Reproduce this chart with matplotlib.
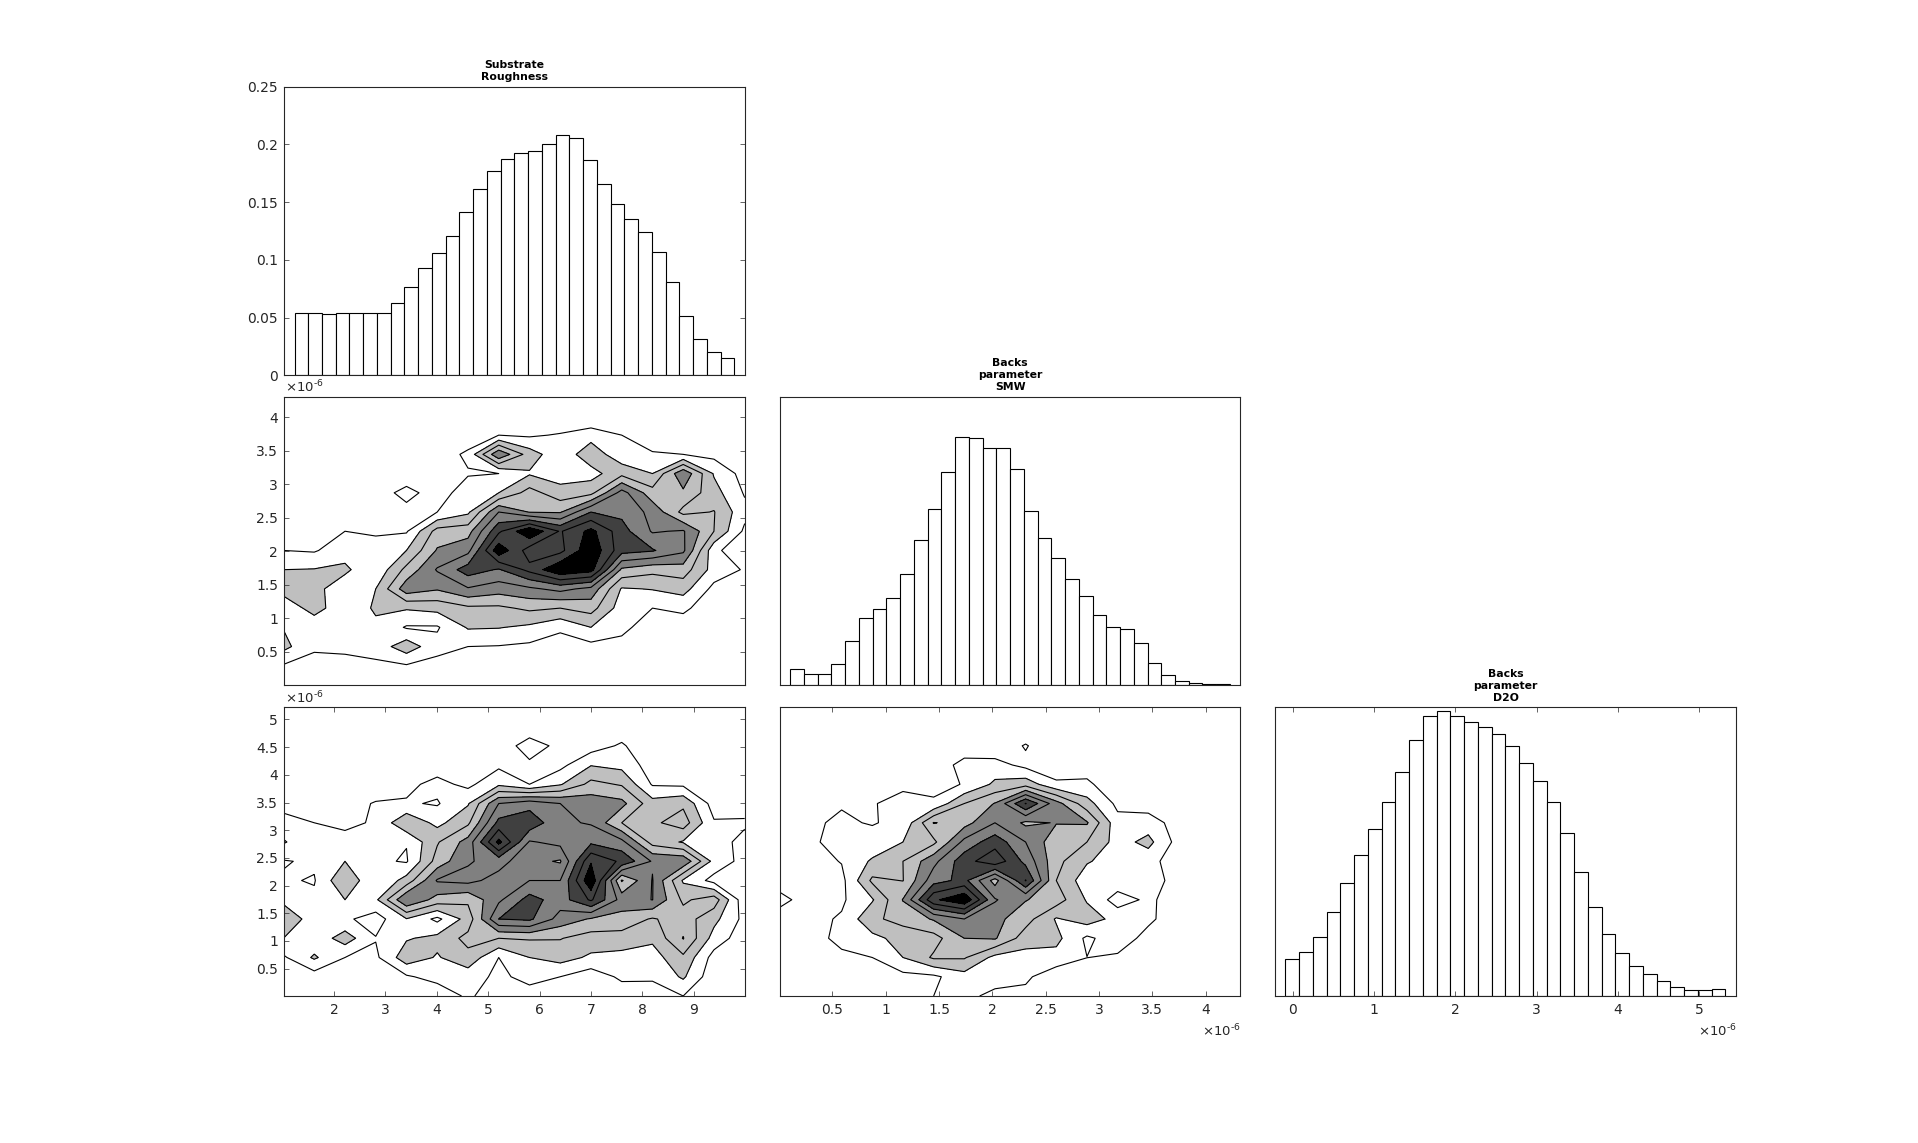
import numpy as np
import matplotlib
matplotlib.use('Agg')
import matplotlib.pyplot as plt

W, H = 1918, 1143

# histogram heights
hist_rough = [.0536, .0536, .0527, .0536, .0544, .0544, .0544, .0622, .0769, .0933, .1063, .121, .1417, .1616, .1771, .1875,
              .1927, .1944, .2005, .2082, .2056, .1866, .1659, .1486, .1357, .1244, .1071, .0804, .0518, .0311, .0199, .0147]
hist_smw = [.0138, .0095, .0095, .0182, .0381, .058, .0657, .0753, .096, .1254, .1522, .1843, .2154, .2145, .2059, .2059,
            .1869, .1505, .1272, .1099, .0917, .077, .0606, .0502, .0484, .0363, .019, .0087, .0035, .0017, .0009, .0009]
hist_d2o = [.032, .0381, .051, .0727, .0977, .122, .1445, .1678, .1938, .2215, .2422, .2465, .2422, .237, .2327, .2266,
            .2163, .2016, .186, .1678, .141, .1073, .077, .0536, .0372, .026, .019, .013, .0078, .0052, .0052, .0061]

# bin ranges of the histograms and axis limits (x 1e-6)
rough_bins = (1.234, 9.79)
smw_bins = (0.106, 4.228)
d2o_bins = (-0.09, 5.32)
rough_lim = (1.02, 9.99)
smw_lim = (0.0125, 4.325)
d2o_lim = (-0.213, 5.455)
smw_ylim = (0.002, 4.31)
d2o_ylim = (0.005, 5.22)

rough_ticks = [2, 3, 4, 5, 6, 7, 8, 9]
smw_ticks = [0.5, 1, 1.5, 2, 2.5, 3, 3.5, 4]
d2o_yticks = [0.5, 1, 1.5, 2, 2.5, 3, 3.5, 4, 4.5, 5]
d2o_xticks = [0, 1, 2, 3, 4, 5]
hist_ticks = [0, 0.05, 0.1, 0.15, 0.2, 0.25]

# 2d histograms on a 16x16 grid, in units of contour level. rows go top to bottom
z_smw_rough = np.array([
    [0, 0, 0, 0, 0, 0, 0, 0, 0, 0, 0, 0, 0, 0, 0, 0],
    [0, 0, 0, 0, 0, 0, 0, 0, 0, 0, 0, 0, 0, 0, 0, 0],
    [0, 0, 0, 0, 0, 0, .2, 1.0, .85, 1.1, 1.6, 1.0, .4, .3, 0, 0],
    [0, 0, 0, 0, 0, .3, 1.25, 4.85, 2.5, 1.3, 2.65, 1.3, 1.1, 1.0, .7, .2],
    [0, 0, 0, 0, .2, .2, .9, 1.0, 1.9, 1.5, 1.6, 2.7, 2.0, 4.8, 1.9, .6],
    [0, .1, .2, .4, 1.4, .42, 1.63, 2.0, 3.4, 2.4, 2.7, 5.4, 3.4, 3.8, 2.4, .9],
    [0, .1, .3, .5, .6, 1.0, 1.8, 5.0, 3.95, 3.9, 6.0, 5.75, 4.7, 2.7, 3.05, 1.3],
    [.4, .6, 1.0, .9, .9, 3.4, 3.6, 6.8, 8.9, 6.9, 8.3, 6.4, 4.9, 5.1, 3.0, .8],
    [1.0, .9, 1.6, 1.3, 2.0, 4.1, 4.7, 8.7, 6.5, 6.7, 8.8, 6.4, 6.1, 5.2, 1.3, .1],
    [2.0, 2.05, 2.2, 1.2, 3.3, 5.1, 6.5, 5.9, 7.3, 8.9, 8.4, 3.8, 3.3, 3.5, 1.6, .9],
    [2.3, 2.3, 1.4, 2.0, 4.6, 4.1, 4.9, 4.45, 4.8, 5.3, 4.7, 1.9, 2.05, 2.4, .7, .3],
    [1.5, 2.3, 1.5, 2.1, 2.1, 2.3, 2.8, 2.8, 3.2, 3.0, 3.4, 1.5, 1.0, 1.2, .4, 0],
    [1.95, 1.5, 1.4, 1.85, .9, .9, 2.1, 2.05, 1.8, 1.2, 2.0, 1.2, .6, .5, .2, 0],
    [2.3, 1.15, 1.2, 1.4, 2.6, 1.3, 1.0, .95, .8, .5, .7, .75, .3, .2, 0, 0],
    [.9, .65, .7, .8, .9, .7, .4, .4, .4, .2, .3, .3, .1, .1, 0, 0],
    [0, 0, 0, 0, 0, 0, 0, 0, 0, 0, 0, 0, 0, 0, 0, 0],
])

# these two are written column by column, left to right
z_d2o_rough = np.array([
    [0, 0, 0, 0, .1, .6, 1.4, 2.1, .93, 1.1, 1.8, 2.6, 2.0, .85, .3, 0],
    [0, 0, 0, 0, .1, .5, 1.0, 1.2, 1.15, .93, 1.2, 1.6, 1.3, 2.15, .5, .1],
    [0, 0, 0, 0, .1, .5, .8, 1.3, 2.0, 2.9, 2.0, 1.18, 2.5, 1.0, .6, .1],
    [0, 0, 0, 0, .2, 1.1, 1.1, 1.1, 1.2, 1.0, 1.8, .55, 1.05, .8, .5, .1],
    [0, 0, 0, .1, .75, 1.1, 2.86, 1.05, .9, 2.4, 5.0, 1.95, 1.9, 2.6, .86, .2],
    [0, 0, 0, .5, 1.3, .91, 1.7, 2.9, 3.4, 5.1, 3.6, .75, 2.3, 1.9, 1.4, .24],
    [0, 0, 0, .2, .75, 1.9, 2.8, 4.4, 4.9, 5.3, 3.2, 2.42, 3.3, 2.7, 1.4, 1.2],
    [0, 0, .1, .8, 1.8, 5.0, 6.3, 8.3, 5.4, 4.6, 4.8, 6.0, 3.0, 1.0, .8, .3],
    [0, 0, 1.7, .72, 1.0, 5.6, 6.7, 4.9, 4.3, 5.0, 6.4, 6.2, 3.1, 2.0, 1.3, .6],
    [0, 0, .6, .7, 1.9, 5.0, 5.2, 5.3, 3.9, 5.0, 5.5, 4.6, 3.05, 2.4, 1.0, .3],
    [0, 0, .5, 1.95, 3.3, 4.6, 4.9, 5.8, 7.9, 8.85, 7.15, 3.9, 2.55, 1.83, .4, .1],
    [0, .3, 1.15, 1.7, 2.9, 4.3, 3.0, 5.3, 6.8, 2.9, 4.6, 3.6, 2.6, 1.65, 1.2, .4],
    [0, 0, .1, .5, .9, 2.4, 2.8, 2.6, 4.9, 5.05, 5.02, 2.9, 2.2, 1.55, 1.15, .5],
    [0, 0, 0, .4, .8, 2.8, 3.5, 1.9, 4.8, 1.87, 2.8, 3.5, 4.05, 2.8, 2.15, 1.0],
    [0, 0, 0, .1, .3, .55, 1.1, 1.58, 1.65, .66, 3.56, 2.3, 1.6, .6, .32, .1],
    [0, 0, 0, 0, .1, .3, 1.2, .6, .65, .5, .3, .7, .4, .1, 0, 0],
]).T

z_d2o_smw = np.array([
    [0, 0, 0, 0, 0, 0, 0, 0, .2, .5, 1.3, .5, .2, 0, 0, 0],
    [0, 0, 0, 0, 0, .5, .91, .83, .6, .5, .5, .75, .73, .2, .1, 0],
    [0, 0, 0, 0, .2, .95, 1.1, 1.4, 1.05, .71, .85, 1.1, 1.2, .85, .2, 0],
    [0, 0, 0, .1, .2, .9, .95, 1.3, 2.15, 3.2, 1.9, 2.8, 1.7, 1.0, .5, .1],
    [0, 0, 0, .3, .7, 1.5, 1.2, 2.0, 3.0, 2.97, 4.05, 3.35, 2.4, 2.0, .7, .2],
    [0, 0, 0, .2, .7, 1.15, 4.05, 2.75, 4.7, 5.6, 7.8, 4.1, 2.6, 3.15, .8, 1.0],
    [0, 0, .2, 1.45, 1.05, 3.0, 3.6, 5.3, 6.6, 6.3, 8.85, 5.0, 4.0, 3.1, 1.6, 1.3],
    [0, 0, .2, 1.4, 2.2, 4.05, 5.0, 6.6, 7.7, 3.6, 5.1, 4.3, 4.1, 1.7, 1.5, .7],
    [0, 0, 1.1, .7, 2.6, 7.05, 3.8, 5.0, 5.7, 7.05, 4.05, 3.4, 2.5, 1.6, 1.2, .7],
    [0, 0, 0, .3, 1.2, 4.4, 4.05, 3.33, 3.3, 3.0, 3.5, 1.9, 2.28, 1.65, .3, 0],
    [0, 0, 0, .5, 1.2, 2.4, 4.1, 3.0, 2.1, 1.4, 1.9, 2.5, .8, 1.01, .3, 0],
    [0, 0, 0, .1, .3, .75, 1.34, 1.6, 1.5, 1.6, .55, 1.65, 1.55, .85, .2, 0],
    [0, 0, 0, 0, .1, .5, 1.5, 2.3, 1.4, 1.4, 1.19, 1.2, .66, .3, 0, 0],
    [0, 0, 0, 0, 0, .1, .54, .59, .35, .66, .5, .4, .2, 0, 0, 0],
    [0, 0, 0, 0, 0, 0, 0, 0, 0, 0, 0, 0, 0, 0, 0, 0],
    [0, 0, 0, 0, 0, 0, 0, 0, 0, 0, 0, 0, 0, 0, 0, 0],
]).T

# contour levels and the grey of each band between them
levels = [-1, 1, 2, 3, 4, 5, 6, 7, 8, 30]
band_colors = ['#ffffff', '#ffffff', '#bfbfbf', '#bfbfbf', '#808080', '#808080', '#404040', '#404040', '#000000']

AXC = '#262626'
OFFSET = r'$\times10^{\text{-6}}$'
plt.rcParams['font.family'] = 'DejaVu Sans'
plt.rcParams['mathtext.fontset'] = 'dejavusans'

fig = plt.figure(figsize=(W / 100, H / 100), dpi=100)


# axes from pixel box of the picture
def make_axes(left, top, right, bottom):
    ax = fig.add_axes([left / W, 1 - bottom / H, (right - left) / W, (bottom - top) / H])
    ax.tick_params(direction='in', top=True, right=True, length=3.3, width=0.5, color=AXC,
                   labelcolor=AXC, labelsize=10, pad=4)
    ax.tick_params(axis='x', pad=5)
    for s in ax.spines.values():
        s.set_linewidth(0.8)
        s.set_color(AXC)
    ax.set_xticks([])
    ax.set_yticks([])
    return ax


def draw_hist(ax, values, bins, xlim, title):
    edges = np.linspace(bins[0], bins[1], len(values) + 1)
    ax.bar(edges[:-1], values, width=np.diff(edges), align='edge', facecolor='white', edgecolor='black', linewidth=0.8)
    ax.set_xlim(xlim)
    ax.set_ylim(0, 0.25)
    ax.set_title(title, fontsize=7.8, fontweight='bold', pad=4.5, linespacing=1.28, color='black')


def draw_contour(ax, z, xlim, ylim):
    x = np.linspace(xlim[0], xlim[1], z.shape[1])
    y = np.linspace(ylim[1], ylim[0], z.shape[0])
    ax.contourf(x, y, z, levels=levels, colors=band_colors)
    ax.contour(x, y, z, levels=levels[1:-1], colors='black', linewidths=0.8)
    ax.set_xlim(xlim)
    ax.set_ylim(ylim)


def offset_top(ax):
    ax.text(0.003, 1.004, OFFSET, transform=ax.transAxes, ha='left', va='bottom', fontsize=9.5, color=AXC)


def offset_right(ax):
    ax.text(1.0, -0.15, OFFSET, transform=ax.transAxes, ha='right', va='bottom', fontsize=9.5, color=AXC)


col1 = (283.5, 744.7)
col2 = (780.3, 1240.3)
col3 = (1275.3, 1736.3)
row1 = (86.7, 375.3)
row2 = (396.7, 685)
row3 = (707.3, 996)

ax = make_axes(col1[0], row1[0], col1[1], row1[1])
draw_hist(ax, hist_rough, rough_bins, rough_lim, 'Substrate\nRoughness')
ax.set_yticks(hist_ticks, ['0', '0.05', '0.1', '0.15', '0.2', '0.25'])

ax = make_axes(col1[0], row2[0], col1[1], row2[1])
draw_contour(ax, z_smw_rough, rough_lim, smw_ylim)
ax.set_yticks(smw_ticks, ['0.5', '1', '1.5', '2', '2.5', '3', '3.5', '4'])
offset_top(ax)

ax = make_axes(col2[0], row2[0], col2[1], row2[1])
draw_hist(ax, hist_smw, smw_bins, smw_lim, 'Backs\nparameter\nSMW')

ax = make_axes(col1[0], row3[0], col1[1], row3[1])
draw_contour(ax, z_d2o_rough, rough_lim, d2o_ylim)
ax.set_xticks(rough_ticks, [str(t) for t in rough_ticks])
ax.set_yticks(d2o_yticks, ['0.5', '1', '1.5', '2', '2.5', '3', '3.5', '4', '4.5', '5'])
offset_top(ax)

ax = make_axes(col2[0], row3[0], col2[1], row3[1])
draw_contour(ax, z_d2o_smw, smw_lim, d2o_ylim)
ax.set_xticks(smw_ticks, ['0.5', '1', '1.5', '2', '2.5', '3', '3.5', '4'])
offset_right(ax)

ax = make_axes(col3[0], row3[0], col3[1], row3[1])
draw_hist(ax, hist_d2o, d2o_bins, d2o_lim, 'Backs\nparameter\nD2O')
ax.set_xticks(d2o_xticks, [str(t) for t in d2o_xticks])
offset_right(ax)

fig.savefig('out.png', dpi=100, facecolor='white')
